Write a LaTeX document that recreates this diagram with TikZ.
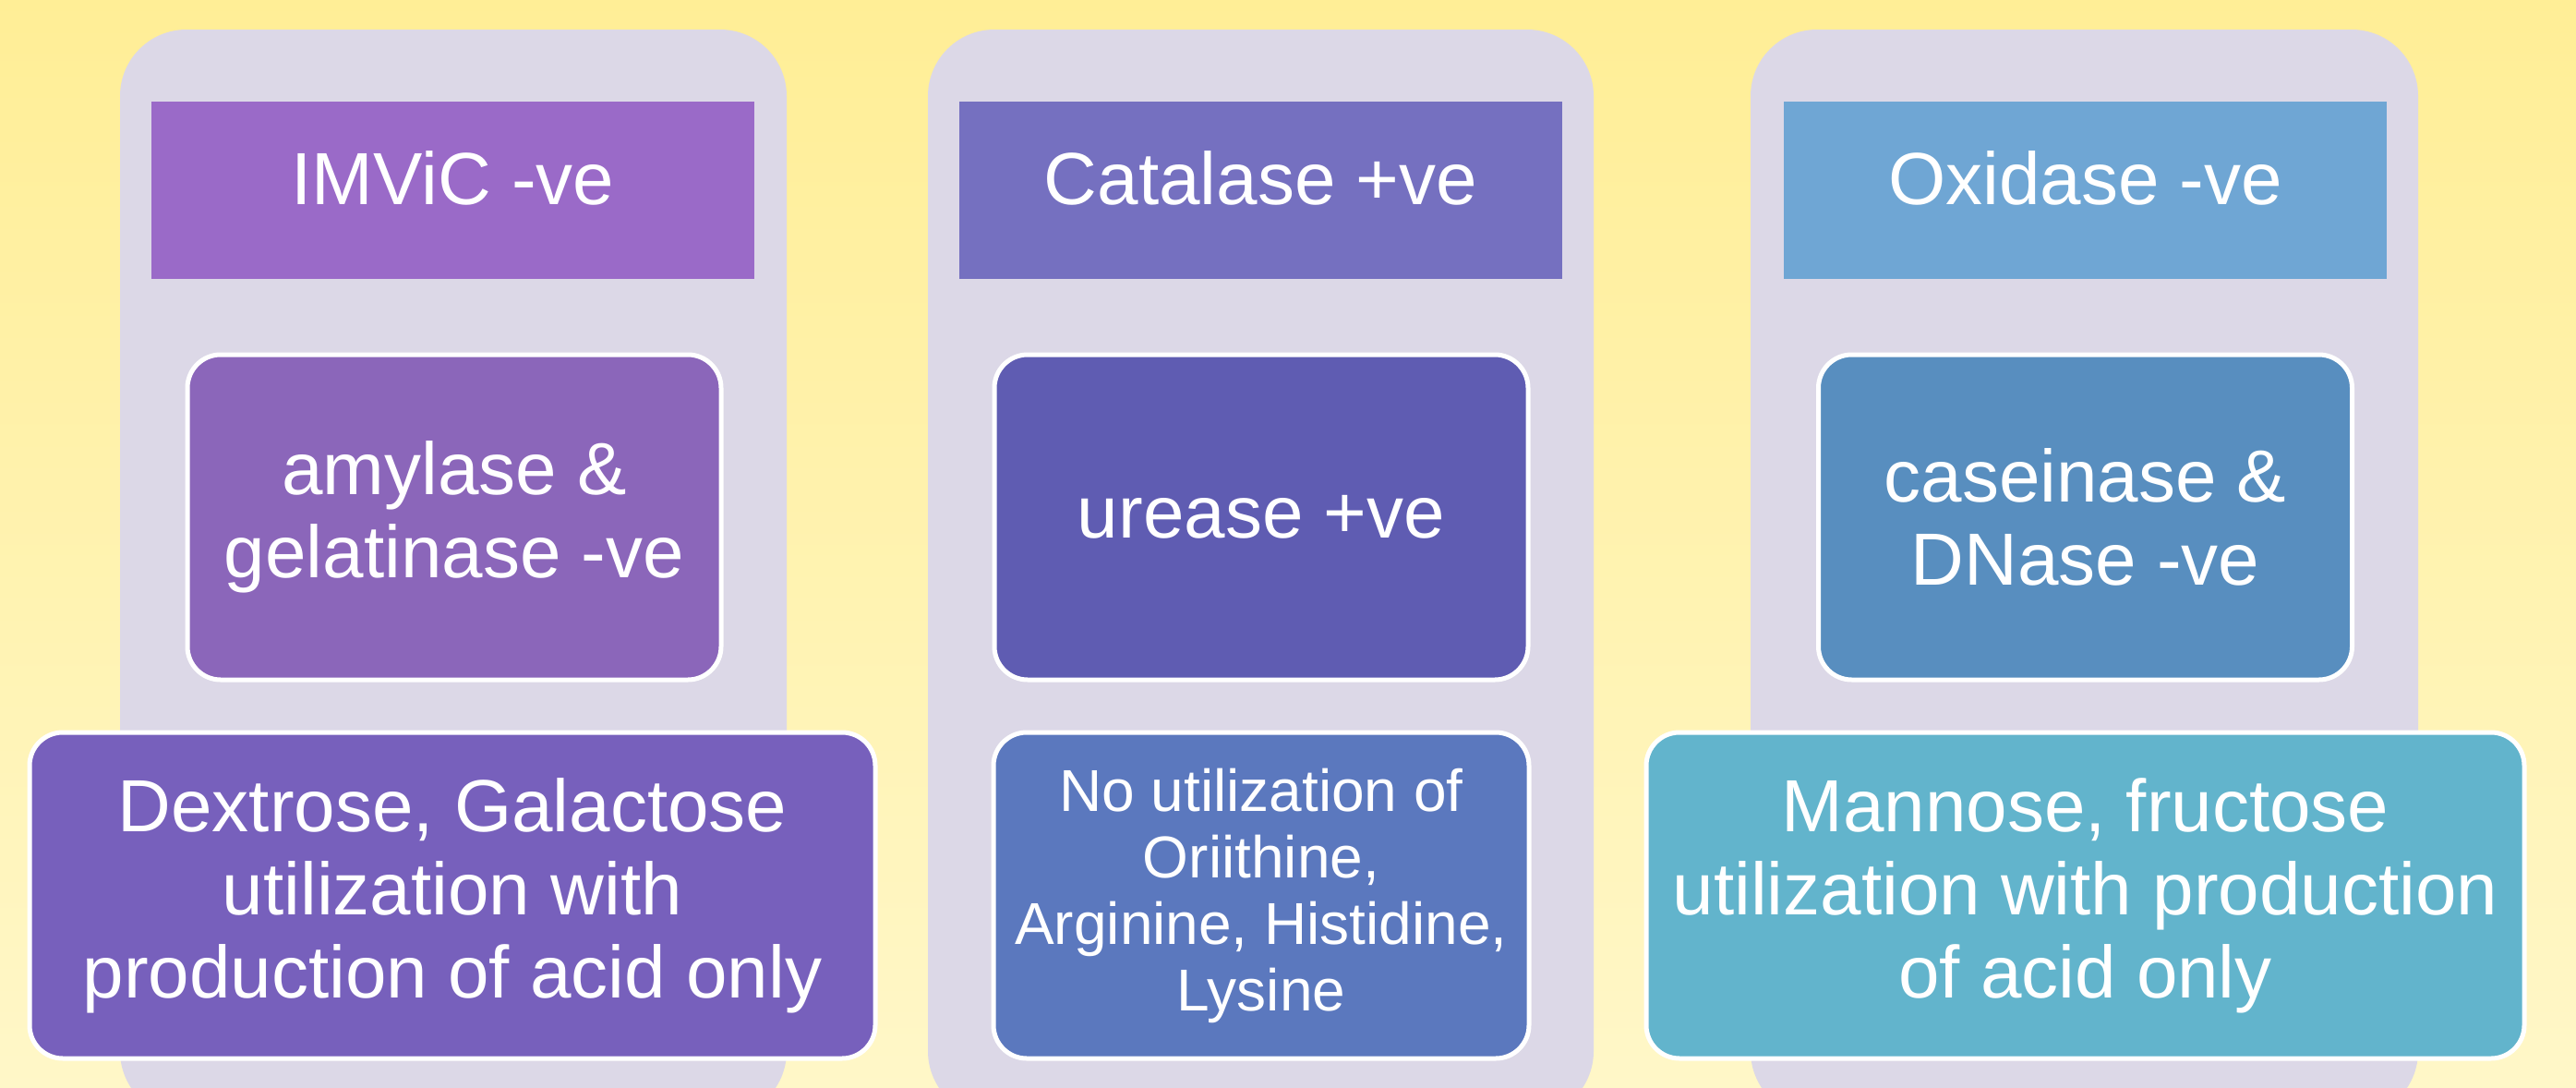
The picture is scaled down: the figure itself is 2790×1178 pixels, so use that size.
\documentclass[tikz,border=0pt]{standalone}
\usepackage{fontspec}
\setmainfont{Liberation Sans}
\definecolor{bgtop}{RGB}{255,238,150}
\definecolor{bgbot}{RGB}{255,247,200}
\definecolor{colbg}{RGB}{220,216,231}
\definecolor{hA}{RGB}{154,106,200}
\definecolor{mA}{RGB}{139,102,186}
\definecolor{bA}{RGB}{119,96,188}
\definecolor{hB}{RGB}{117,112,192}
\definecolor{mB}{RGB}{95,92,178}
\definecolor{bB}{RGB}{91,120,190}
\definecolor{hC}{RGB}{111,166,212}
\definecolor{mC}{RGB}{88,142,191}
\definecolor{bC}{RGB}{98,180,204}
\tikzset{
  colpanel/.style={fill=colbg, rounded corners=72pt},
  header/.style={rectangle, minimum width=653pt, minimum height=192pt, inner sep=0pt,
     text=white, font=\fontsize{80}{90}\selectfont, text height=30pt, text depth=0pt},
  midbox/.style={rectangle, rounded corners=36pt, draw=white, line width=5pt,
     minimum width=578pt, minimum height=352pt, inner sep=0pt, align=center,
     text=white, font=\fontsize{80}{90}\selectfont},
  lowbox/.style={rectangle, rounded corners=36pt, draw=white, line width=5pt,
     minimum height=353pt, inner sep=0pt, align=center,
     text=white, font=\fontsize{80}{90}\selectfont},
}
\begin{document}
\begin{tikzpicture}[x=1pt,y=-1pt]
\useasboundingbox (0,0) rectangle (2790,1178);
\clip (0,0) rectangle (2790,1178);
\shade[top color=bgtop, bottom color=bgbot] (0,0) rectangle (2790,1178);
% column panels
\fill[colpanel] (130,32) rectangle (852,1210);
\fill[colpanel] (1005,32) rectangle (1726,1210);
\fill[colpanel] (1896,32) rectangle (2619,1210);
% headers
\node[header, fill=hA] (h1) at (490.5,206) {IMViC -ve};
\node[header, fill=hB] (h2) at (1365.5,206) {Catalase +ve};
\node[header, fill=hC] (h3) at (2258.5,206) {Oxidase -ve};
% middle boxes
\node[midbox, fill=mA] (m1) at (492,560) {amylase \&\\gelatinase -ve};
\node[midbox, fill=mB] (m2) at (1366,560) {urease +ve};
\node[midbox, fill=mC] (m3) at (2258.5,560) {caseinase \&\\DNase -ve};
% bottom boxes
\node[lowbox, fill=bA, minimum width=916pt] (b1) at (490,969.5) {Dextrose, Galactose\\utilization with\\production of acid only};
\node[lowbox, fill=bB, minimum width=580pt, font=\fontsize{64}{72}\selectfont] (b2) at (1366,969.5) {No utilization of\\Oriithine,\\Arginine, Histidine,\\Lysine};
\node[lowbox, fill=bC, minimum width=951pt] (b3) at (2258.5,969.5) {Mannose, fructose\\utilization with production\\of acid only};
\end{tikzpicture}
\end{document}
